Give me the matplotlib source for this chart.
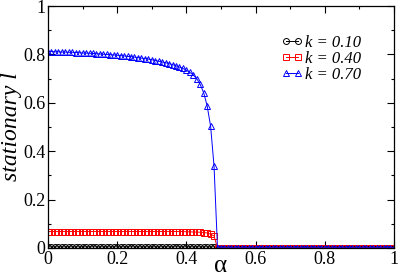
import numpy as np
import matplotlib
matplotlib.use('Agg')
import matplotlib.pyplot as plt
from matplotlib.ticker import MultipleLocator

# alpha grid, step 0.01
alpha = np.round(np.arange(0, 1.0001, 0.01), 2)

# k = 0.70 (nonzero part up to alpha = 0.48)
l_k070_head = [0.812, 0.812, 0.811, 0.811, 0.810, 0.810, 0.809, 0.809, 0.808, 0.807,
               0.806, 0.806, 0.805, 0.804, 0.803, 0.802, 0.801, 0.800, 0.799, 0.798,
               0.797, 0.795, 0.794, 0.792, 0.791, 0.789, 0.787, 0.785, 0.783, 0.781,
               0.778, 0.775, 0.772, 0.769, 0.766, 0.762, 0.758, 0.753, 0.748, 0.742,
               0.735, 0.726, 0.715, 0.700, 0.676, 0.642, 0.588, 0.504, 0.338]
# k = 0.40
l_k040_head = [0.068] * 40 + [0.067, 0.067, 0.066, 0.066, 0.065, 0.064, 0.062, 0.057, 0.050]
# k = 0.10
l_k010_head = [0.005] * 49

n_tail = len(alpha) - 49
l_k070 = l_k070_head + [0.0] * n_tail
l_k040 = l_k040_head + [0.0] * n_tail
l_k010 = l_k010_head + [0.0] * n_tail

tick_vals = [0, 0.2, 0.4, 0.6, 0.8, 1.0]
tick_text = ['0', '0.2', '0.4', '0.6', '0.8', '1']

plt.rcParams['font.family'] = ['Liberation Serif', 'DejaVu Serif']

fig = plt.figure(figsize=(3.99, 2.80), dpi=100)
ax = fig.add_axes([0.1203, 0.1143, 0.867, 0.864])

ms = 4.3
ax.plot(alpha, l_k010, color='black', lw=0.7, marker='o', ms=ms, mfc='none', mew=0.7,
        label='k = 0.10')
ax.plot(alpha, l_k040, color='red', lw=0.7, marker='s', ms=ms, mfc='none', mew=0.7,
        label='k = 0.40')
ax.plot(alpha, l_k070, color='blue', lw=0.7, marker='^', ms=ms + 0.7, mfc='none', mew=0.7,
        label='k = 0.70')

ax.set_xlim(0, 1)
ax.set_ylim(0, 1)
ax.set_xticks(tick_vals)
ax.set_xticklabels(tick_text)
ax.set_yticks(tick_vals)
ax.set_yticklabels(tick_text)
ax.xaxis.set_minor_locator(MultipleLocator(0.1))
ax.yaxis.set_minor_locator(MultipleLocator(0.1))

ax.tick_params(which='both', direction='in', top=True, right=True, labelsize=13, pad=2)
ax.tick_params(which='major', length=5, width=0.8)
ax.tick_params(which='minor', length=2.5, width=0.8)
for s in ax.spines.values():
    s.set_linewidth(0.9)

ax.set_xlabel('α', fontsize=18, labelpad=-9)
ax.set_ylabel('stationary l', fontsize=17, style='italic', labelpad=1)

leg = ax.legend(loc='upper right', bbox_to_anchor=(0.93, 0.915), frameon=False,
                fontsize=12, numpoints=2, handlelength=1.3, handletextpad=0.15,
                labelspacing=0.0, borderpad=0)
for t in leg.get_texts():
    t.set_style('italic')

fig.savefig('out.png', dpi=100)
